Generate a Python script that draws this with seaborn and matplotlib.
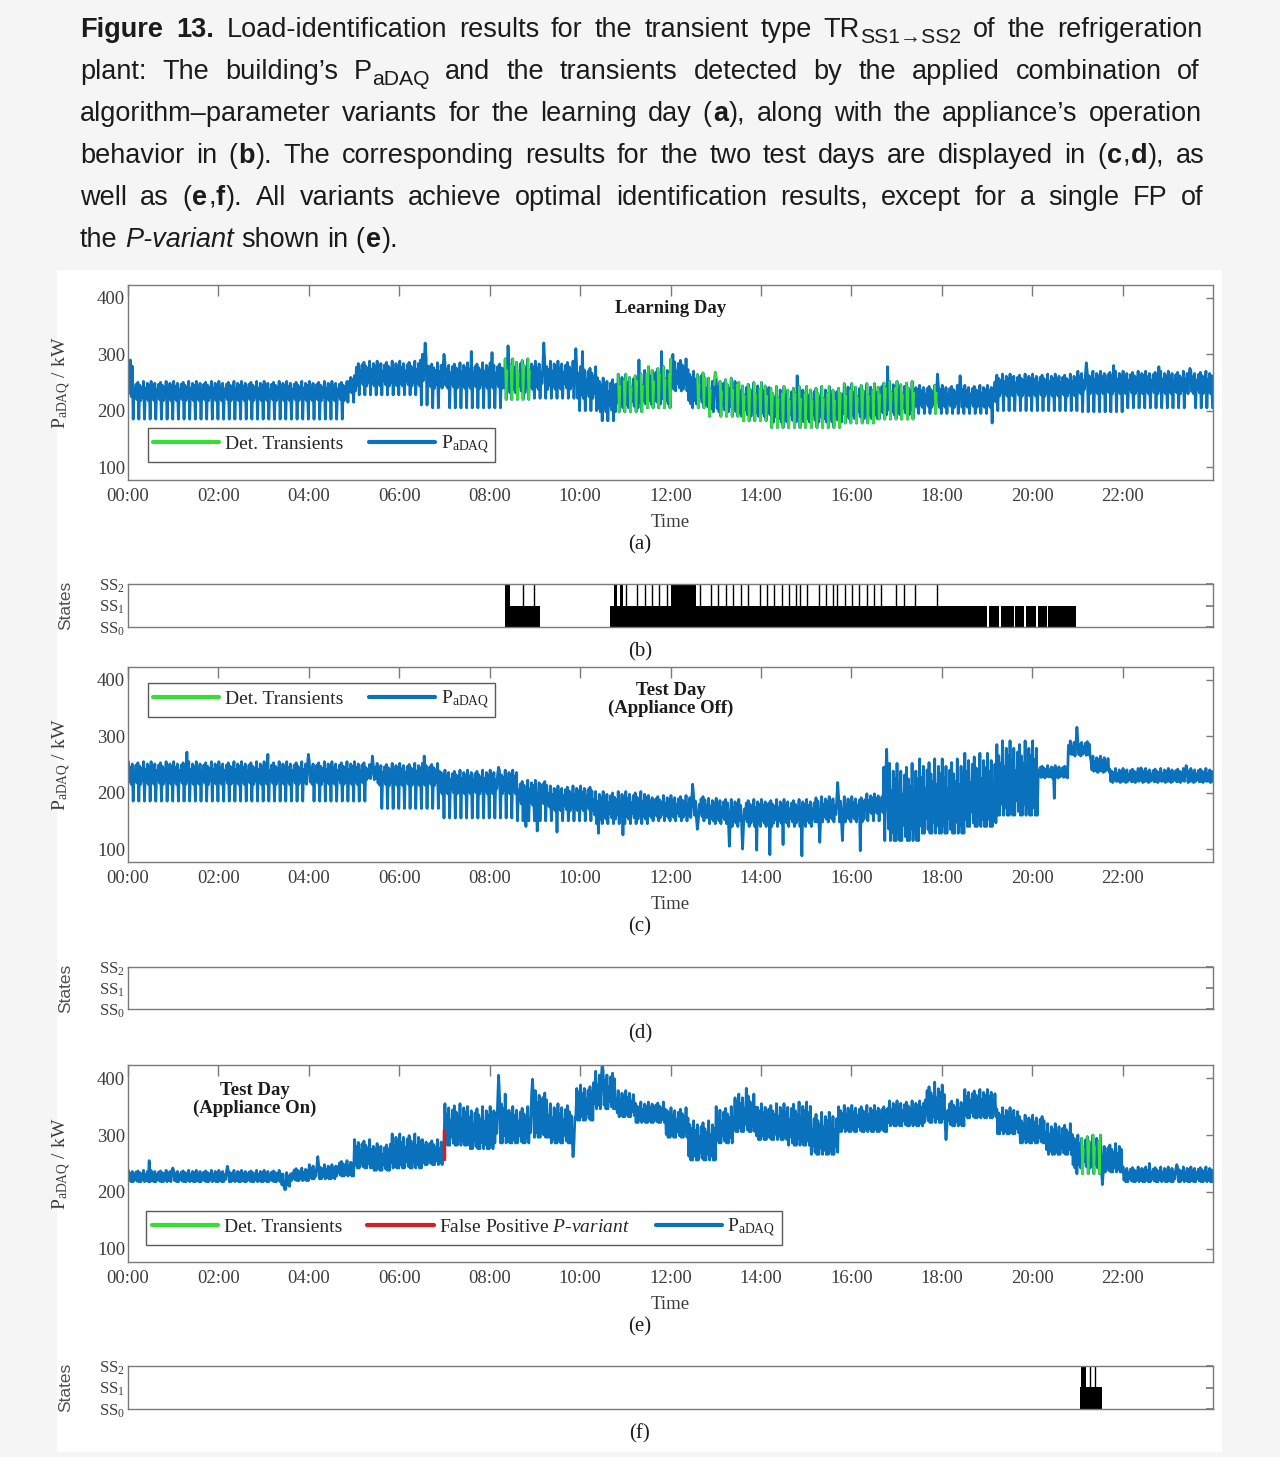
import matplotlib
matplotlib.use('Agg')
import numpy as np
import pandas as pd
import seaborn as sns
import matplotlib.pyplot as plt
from matplotlib.lines import Line2D
from matplotlib.patches import Rectangle

# ---------------- data ----------------
# time axis ticks
hour_ticks = list(range(0, 24, 2))
hour_labels = ['%02d:00' % h for h in hour_ticks]

# P_aDAQ in kW, read piecewise: segment end (h), upper edge, lower edge, regular dip
# plus single spikes (h, kW)
# (a) learning day
a_end = [0.1, 4.85, 5.05, 6.45, 6.65, 8.3, 8.9, 9.9, 10.4, 10.8, 11.4, 12.0, 12.4, 12.8,
         13.5, 14.2, 15.8, 16.6, 17.4, 19.1, 19.2, 21.0, 22.0, 24.0]
a_hi = [285, 252, 262, 288, 300, 285, 292, 288, 278, 258, 265, 278, 292, 270,
        258, 250, 243, 248, 252, 245, 258, 265, 270, 270]
a_lo = [225, 218, 232, 244, 248, 240, 232, 238, 222, 198, 205, 212, 238, 212,
        198, 190, 180, 186, 193, 206, 213, 226, 230, 230]
a_dip = [190, 185, 215, 228, 210, 205, 220, 222, 200, 182, 198, 205, 235, 205,
         190, 182, 170, 178, 185, 195, 178, 200, 198, 205]
a_spike_t = [0.05, 6.57, 7.0, 7.6, 8.05, 8.4, 9.2, 9.9, 10.05, 11.3, 11.8, 12.05,
             13.0, 14.8, 16.8, 17.9, 18.4, 21.2, 21.8, 22.8, 23.5]
a_spike_p = [290, 320, 300, 305, 303, 315, 320, 310, 305, 290, 305, 300,
             268, 262, 278, 265, 262, 285, 280, 278, 275]
a_transients = [(8.33, 8.9), (10.75, 12.05), (12.6, 17.45), (17.85, 17.97)]

# (c) test day, appliance off
c_end = [5.25, 5.5, 6.9, 8.6, 9.3, 10.3, 11.5, 12.8, 13.3, 15.2, 16.3, 16.7, 17.5, 18.5,
         19.2, 20.15, 20.8, 21.3, 21.7, 24.0]
c_hi = [255, 250, 252, 240, 222, 212, 202, 195, 190, 188, 193, 198, 252, 260,
        270, 292, 248, 292, 265, 243]
c_lo = [215, 223, 213, 198, 178, 168, 153, 156, 150, 146, 153, 163, 115, 128,
        140, 160, 226, 265, 236, 218]
c_dip = [185, 225, 172, 155, 150, 150, 145, 150, 145, 140, 148, 150, 115, 128,
         140, 160, 228, 268, 238, 220]
c_spike_t = [1.3, 3.1, 4.0, 5.4, 6.55, 8.2, 12.5, 15.7, 16.78, 21.0, 22.4, 23.4,
             8.8, 9.05, 9.5, 10.4, 10.95, 12.6, 13.3, 13.6, 13.9, 14.2, 14.5, 14.9,
             15.3, 15.8, 16.2, 20.5]
c_spike_p = [272, 268, 268, 265, 265, 245, 215, 218, 277, 316, 244, 248,
             140, 132, 130, 128, 125, 135, 105, 100, 98, 90, 108, 88,
             112, 115, 97, 190]

# (e) test day, appliance on
e_end = [3.4, 3.6, 4.0, 4.6, 5.0, 5.4, 5.8, 6.5, 6.98, 7.5, 8.1, 8.4, 8.9, 9.3, 9.9,
         10.3, 10.8, 11.2, 11.9, 12.4, 13.0, 13.4, 13.9, 14.6, 15.1, 15.7, 16.8, 17.6,
         18.1, 18.5, 19.2, 19.7, 20.3, 20.9, 21.55, 22.0, 24.0]
e_hi = [238, 234, 242, 248, 255, 292, 285, 302, 292, 355, 350, 372, 350, 378, 355,
        388, 412, 378, 358, 348, 325, 350, 372, 355, 358, 340, 352, 360,
        388, 362, 380, 348, 335, 320, 300, 285, 244]
e_lo = [218, 210, 220, 223, 228, 242, 238, 242, 248, 282, 276, 286, 286, 296, 286,
        326, 346, 332, 322, 296, 256, 286, 306, 292, 282, 266, 306, 316,
        322, 316, 330, 302, 286, 266, 242, 235, 218]
e_dip = [218, 205, 220, 223, 228, 242, 238, 242, 248, 282, 276, 286, 286, 296, 286,
         326, 346, 332, 322, 296, 256, 286, 306, 292, 282, 266, 306, 316,
         322, 316, 330, 302, 286, 266, 232, 235, 218]
e_spike_t = [0.46, 1.0, 2.2, 3.46, 4.2, 8.2, 8.95, 9.85, 10.5, 13.67, 17.85, 18.1,
             21.55, 22.6, 23.2]
e_spike_p = [255, 242, 245, 204, 262, 405, 398, 262, 425, 382, 393, 292,
             213, 250, 248]
e_transients = [(21.0, 21.55)]
fp_time = [6.98, 6.98]
fp_power = [258, 308]

# appliance states (hours): SS1 periods, SS2 periods, short SS2 peaks
b_ss1 = [(8.33, 9.12), (10.67, 19.01), (19.05, 19.26), (19.3, 19.59), (19.63, 19.83),
         (19.87, 20.08), (20.12, 20.32), (20.36, 20.98)]
b_ss2 = [(8.35, 8.44), (10.76, 10.82), (10.88, 10.96), (12.0, 12.57)]
b_peaks = [8.73, 8.97, 11.02, 11.26, 11.43, 11.59, 11.75, 11.92, 12.65, 12.9, 13.06,
           13.23, 13.39, 13.56, 13.72, 13.97, 14.13, 14.29, 14.46, 14.62, 14.78, 14.87,
           15.03, 15.28, 15.44, 15.6, 15.68, 15.85, 16.01, 16.18, 16.34, 16.5, 16.66,
           16.99, 17.16, 17.4, 17.89]
f_ss1 = [(21.05, 21.55)]
f_ss2 = [(21.07, 21.19)]
f_peaks = [21.28, 21.4]

state_ticks = [0, 1, 2]
state_labels = [r'SS$_\mathregular{0}$', r'SS$_\mathregular{1}$', r'SS$_\mathregular{2}$']

# ---------------- styling ----------------
W, H = 1280, 1457
blue = '#0a72bd'
green = '#35e035'
red = '#d42020'
spine_col = '#7a7a7a'
tick_col = '#3d3d3d'
txt_col = '#1c1c1c'

# where each sample sits between the lower and upper edge over a 30 min cycle
# (None = the regular dip); gives the band its ragged look
texture = [1.0, 0.1, 0.75, 0.0, 0.9, None, 0.6, 0.2, 0.85, 0.05, 0.95, None,
           0.8, 0.0, 0.7, 0.15, 1.0, None, 0.65, 0.1, 0.9, 0.0, 0.8, None]

sns.set_theme(style='white')
plt.rcParams['font.family'] = ['Liberation Serif', 'DejaVu Serif']
plt.rcParams['mathtext.fontset'] = 'custom'
plt.rcParams['mathtext.rm'] = 'Liberation Serif'
plt.rcParams['mathtext.it'] = 'Liberation Serif:italic'
plt.rcParams['mathtext.bf'] = 'Liberation Serif:bold'

fig = plt.figure(figsize=(W / 100, H / 100), dpi=100, facecolor='#f5f5f5')
fig.add_artist(Rectangle((57 / W, 1 - 1452 / H), (1222 - 57) / W, (1452 - 270) / H,
                         transform=fig.transFigure, facecolor='white', edgecolor='none', zorder=-1))


def axes_px(left, top, right, bottom):
    return fig.add_axes([left / W, 1 - bottom / H, (right - left) / W, (bottom - top) / H])


def build_trace(seg_end, hi, lo, dip, spike_t, spike_p):
    # sampled every 1.25 min inside the edges read off the plot,
    # then the single spikes are put in
    step = 1 / 48
    t = np.arange(step / 2, 24, step)
    seg = np.minimum(np.searchsorted(seg_end, t, side='right'), len(seg_end) - 1)
    p = np.empty(len(t))
    is_dip = np.zeros(len(t), dtype=bool)
    for j in range(len(t)):
        f = texture[j % len(texture)]
        s = seg[j]
        if f is None:
            p[j] = dip[s]
            is_dip[j] = True
        else:
            p[j] = lo[s] + f * (hi[s] - lo[s])
    for ts, ps in zip(spike_t, spike_p):
        p[np.argmin(np.abs(t - ts))] = ps
    return pd.DataFrame({'hour': t, 'P': p, 'dip': is_dip})


def transient_strokes(df, windows):
    t = df['hour'].values
    p = df['P'].values
    d = df['dip'].values
    xs, ys = [], []
    for j in range(1, len(t) - 1):
        if d[j] and any(s <= t[j] <= e for s, e in windows):
            xs += [t[j - 1], t[j], t[j + 1], np.nan]
            ys += [p[j - 1], p[j], p[j + 1], np.nan]
    return xs, ys


def style_box(ax):
    for s in ax.spines.values():
        s.set_color(spine_col)
        s.set_linewidth(1.0)
        s.set_visible(True)
    ax.set_facecolor('white')


def style_power(ax):
    style_box(ax)
    ax.set_xlim(0, 24)
    ax.set_ylim(77, 423)
    ax.set_xticks(hour_ticks)
    ax.set_xticklabels(hour_labels)
    ax.set_yticks([100, 200, 300, 400])
    ax.tick_params(axis='both', direction='in', top=True, right=True, color=spine_col,
                   labelcolor=tick_col, labelsize=13.5, width=1.0)
    ax.tick_params(axis='x', length=8, pad=6)
    ax.tick_params(axis='y', length=5, pad=2)
    ax.set_xlabel('Time', fontsize=13.5, color=tick_col, labelpad=6)
    ax.set_ylabel(r'P$_\mathregular{aDAQ}$ / kW', fontsize=14, color=tick_col)
    ax.yaxis.set_label_coords((73 - 128) / 1085, 0.5)


def style_states(ax):
    style_box(ax)
    ax.set_xlim(0, 24)
    ax.set_ylim(0, 2)
    ax.set_xticks([])
    ax.set_yticks(state_ticks)
    ax.set_yticklabels(state_labels)
    ax.tick_params(axis='y', direction='in', right=True, length=5, color=spine_col,
                   labelcolor=tick_col, labelsize=12, pad=2)
    ax.set_ylabel('States', family='Liberation Sans', fontsize=12.5, color='#505050')
    ax.yaxis.set_label_coords((73 - 128) / 1085, 0.5)


def draw_power(ax, seg_end, hi, lo, dip, spike_t, spike_p, windows):
    df = build_trace(seg_end, hi, lo, dip, spike_t, spike_p)
    sns.lineplot(data=df, x='hour', y='P', ax=ax, color=blue, lw=2.0,
                 estimator=None, sort=False, legend=False)
    if windows:
        gx, gy = transient_strokes(df, windows)
        ax.plot(gx, gy, color=green, lw=1.6)
    style_power(ax)


def draw_states(ax, ss1, ss2, peaks):
    for s, e in ss1:
        ax.fill_between([s, e], 0, 1, color='black', lw=0)
    for s, e in ss2:
        ax.fill_between([s, e], 0, 2, color='black', lw=0)
    if peaks:
        ax.vlines(peaks, 0, 2, color='black', lw=1.0)
    style_states(ax)


def add_legend(ax, entries, loc, anchor):
    handles = [Line2D([], [], color=c, lw=3) for c, _ in entries]
    leg = ax.legend(handles, [l for _, l in entries], ncol=len(entries), loc=loc,
                    bbox_to_anchor=anchor, frameon=True, fancybox=False, framealpha=1,
                    edgecolor='#5a5a5a', handlelength=3.4, handletextpad=0.3,
                    columnspacing=1.3, borderpad=0.3, borderaxespad=0, fontsize=14)
    leg.get_frame().set_linewidth(1.0)
    for t in leg.get_texts():
        t.set_color('#262626')


def panel_letter(letter, y_px):
    fig.text(640 / W, 1 - y_px / H, '(%s)' % letter, ha='center', va='center',
             fontsize=15, color=txt_col)


pdaq_a = r'P$_\mathregular{aDAQ}\enspace$'
pdaq_e = r'P$_\mathregular{aDAQ}\quad$'

# (a)
ax_a = axes_px(128, 285, 1213, 480)
draw_power(ax_a, a_end, a_hi, a_lo, a_dip, a_spike_t, a_spike_p, a_transients)
ax_a.text(0.5, 0.877, 'Learning Day', transform=ax_a.transAxes, ha='center', va='center',
          fontsize=13.5, fontweight='bold', color=txt_col)
add_legend(ax_a, [(green, 'Det. Transients'), (blue, pdaq_a)], 'lower left', (0.018, 0.092))
panel_letter('a', 545)

# (b)
ax_b = axes_px(128, 584, 1213, 627)
draw_states(ax_b, b_ss1, b_ss2, b_peaks)
panel_letter('b', 652)

# (c)
ax_c = axes_px(128, 667, 1213, 862)
draw_power(ax_c, c_end, c_hi, c_lo, c_dip, c_spike_t, c_spike_p, [])
ax_c.text(0.5, 0.833, 'Test Day\n(Appliance Off)', transform=ax_c.transAxes, ha='center',
          va='center', fontsize=13.5, fontweight='bold', color=txt_col, linespacing=1.0)
add_legend(ax_c, [(green, 'Det. Transients'), (blue, pdaq_a)], 'upper left', (0.018, 0.918))
panel_letter('c', 927)

# (d)
ax_d = axes_px(128, 967, 1213, 1009)
draw_states(ax_d, [], [], [])
panel_letter('d', 1034)

# (e)
ax_e = axes_px(128, 1065, 1213, 1262)
draw_power(ax_e, e_end, e_hi, e_lo, e_dip, e_spike_t, e_spike_p, e_transients)
ax_e.plot(fp_time, fp_power, color=red, lw=2.5)
ax_e.text(0.117, 0.825, 'Test Day\n(Appliance On)', transform=ax_e.transAxes, ha='center',
          va='center', fontsize=13.5, fontweight='bold', color=txt_col, linespacing=1.0)
add_legend(ax_e, [(green, 'Det. Transients'),
                  (red, r'False Positive $\mathit{P}$-$\mathit{variant}$'),
                  (blue, pdaq_e)], 'lower left', (0.0166, 0.087))
panel_letter('e', 1327)

# (f)
ax_f = axes_px(128, 1366, 1213, 1409)
draw_states(ax_f, f_ss1, f_ss2, f_peaks)
panel_letter('f', 1434)

# ---------------- caption (justified) ----------------
n, b, it, sub = 'normal', 'bold', 'italic', 'sub'
cap_lines = [
    [[('Figure', b)], [('13.', b)], 'Load-identification', 'results', 'for', 'the', 'transient',
     'type', [('TR', n), ('SS1→SS2', sub)], 'of', 'the', 'refrigeration'],
    'plant: The building’s'.split(' ') + [[('P', n), ('aDAQ', sub)]]
    + 'and the transients detected by the applied combination of'.split(' '),
    'algorithm–parameter variants for the learning day'.split(' ')
    + [[('(', n), ('a', b), ('),', n)]] + 'along with the appliance’s operation'.split(' '),
    'behavior in'.split(' ') + [[('(', n), ('b', b), (').', n)]]
    + 'The corresponding results for the two test days are displayed in'.split(' ')
    + [[('(', n), ('c', b), (',', n), ('d', b), ('),', n)]] + ['as'],
    ['well', 'as', [('(', n), ('e', b), (',', n), ('f', b), (').', n)]]
    + 'All variants achieve optimal identification results, except for a single FP of'.split(' '),
    ['the', [('P-variant', it)], 'shown', 'in', [('(', n), ('e', b), (').', n)]],
]
cap_baselines = [37, 79, 121, 163, 205, 247]
cap_size = 19.5
renderer = fig.canvas.get_renderer()


def cap_text(x, y, s, style):
    kw = dict(family=['Liberation Sans', 'DejaVu Sans'], fontsize=cap_size, color='#1b1b1b',
              ha='left', va='baseline')
    if style == b:
        kw['fontweight'] = 'bold'
    if style == it:
        kw['fontstyle'] = 'italic'
    if style == sub:
        kw['fontsize'] = cap_size * 0.78
        y = y + 6
    return fig.text(x / W, 1 - y / H, s, **kw)


def cap_width(s, style):
    t = cap_text(0, 0, s, style)
    w = t.get_window_extent(renderer).width
    t.remove()
    return w


space_w = cap_width('a a', n) - cap_width('aa', n)
x0, x1 = 80, 1200
for li, (words, yb) in enumerate(zip(cap_lines, cap_baselines)):
    words = [[(w, n)] if isinstance(w, str) else w for w in words]
    widths = [[cap_width(s, st) for s, st in w] for w in words]
    total = sum(sum(ws) for ws in widths)
    if li == len(cap_lines) - 1:
        gap = space_w
    else:
        gap = (x1 - x0 - total) / (len(words) - 1)
    x = x0
    for w, ws in zip(words, widths):
        for (s, st), sw in zip(w, ws):
            cap_text(x, yb, s, st)
            x += sw + (1 if st == b or s == '(' else 0)
        x += gap

fig.savefig('out.png', dpi=100, facecolor=fig.get_facecolor())
